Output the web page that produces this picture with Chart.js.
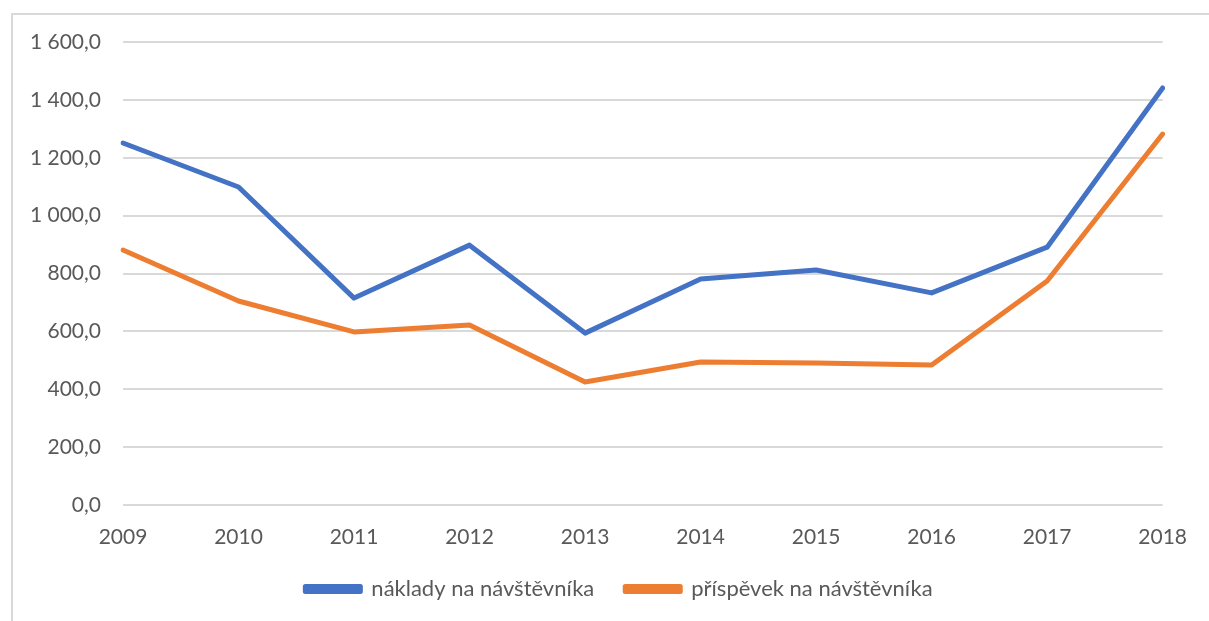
<!DOCTYPE html>
<html>
<head>
<meta charset="utf-8">
<script src="https://cdn.jsdelivr.net/npm/chart.js@4/dist/chart.umd.min.js"></script>
<style>
  html, body { margin: 0; padding: 0; background: #fff; }
  #wrap { position: relative; width: 1209px; height: 621px; overflow: hidden; }
  #frame { position: absolute; left: 11px; top: 13px; width: 1300px; height: 700px;
           border-left: 2px solid #d9d9d9; border-top: 2px solid #d9d9d9; }
  canvas { position: absolute; left: 0; top: 0; }
</style>
</head>
<body>
<div id="wrap">
  <div id="frame"></div>
  <canvas id="chart" width="1209" height="621"></canvas>
</div>
<script>
// chart data
const years = ['2009', '2010', '2011', '2012', '2013', '2014', '2015', '2016', '2017', '2018'];
const naklady = [1251, 1099, 715, 898, 594, 781, 812, 733, 891, 1441];
const prispevek = [881, 705, 598, 622, 425, 494, 491, 484, 774, 1282];
const seriesNames = ['náklady na návštěvníka', 'příspěvek na návštěvníka'];

const textColor = '#595959';
const gridColor = '#d9d9d9';
const font = { family: 'Lato', size: 21 };

// "1 600,0" style labels
function fmt(v) {
  const parts = v.toFixed(1).split('.');
  return parts[0].replace(/\B(?=(\d{3})+(?!\d))/g, ' ') + ',' + parts[1];
}

function lineSet(label, data, color) {
  return {
    label: label,
    data: data,
    borderColor: color,
    backgroundColor: color,
    borderWidth: 5,
    borderCapStyle: 'round',
    borderJoinStyle: 'round',
    pointRadius: 0,
    fill: false,
    tension: 0
  };
}

// legend in the original sits a bit right of canvas centre
const legendShift = {
  id: 'legendShift',
  afterLayout(chart) {
    if (chart.legend) chart.legend.left += 72;
  }
};

new Chart(document.getElementById('chart'), {
  type: 'line',
  data: {
    labels: years,
    datasets: [
      lineSet(seriesNames[0], naklady, '#4472c4'),
      lineSet(seriesNames[1], prispevek, '#ed7d31')
    ]
  },
  options: {
    responsive: false,
    animation: false,
    layout: { padding: { left: 0, right: 43, top: 42, bottom: 11 } },
    scales: {
      x: {
        offset: false,
        grid: { display: false, drawTicks: false },
        border: { display: false },
        ticks: { color: textColor, font: { family: 'Lato', size: 21, lineHeight: 1 }, padding: 22, maxRotation: 0 },
        afterFit: (s) => { s.height = 42; }
      },
      y: {
        min: 0,
        max: 1600,
        ticks: { stepSize: 200, color: textColor, font: font, padding: 22, callback: (v) => fmt(v) },
        grid: { color: gridColor, lineWidth: 2, drawTicks: false },
        border: { display: false },
        afterFit: (s) => { s.width = 123; }
      }
    },
    plugins: {
      tooltip: { enabled: false },
      legend: {
        position: 'bottom',
        labels: {
          color: textColor,
          font: { family: 'Lato', size: 22 },
          boxWidth: 55,
          boxHeight: 5,
          padding: 31
        }
      }
    }
  },
  plugins: [legendShift]
});
</script>
</body>
</html>
